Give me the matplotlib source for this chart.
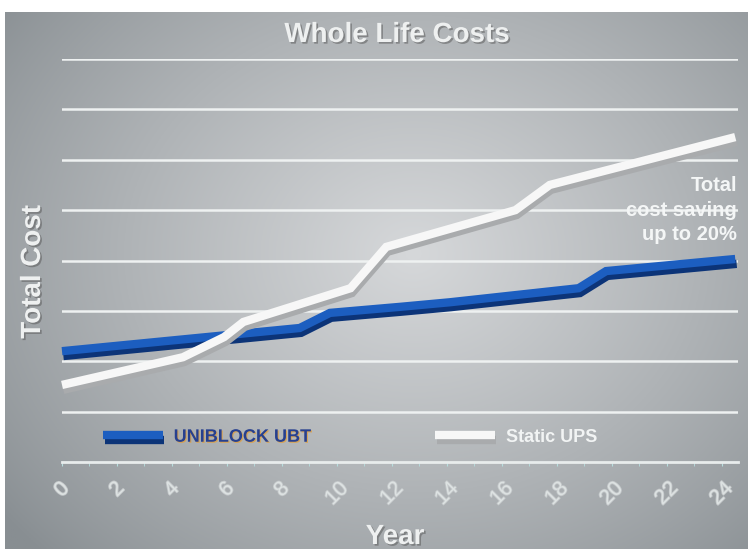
import numpy as np
import matplotlib
matplotlib.use('Agg')
import matplotlib.pyplot as plt
import matplotlib.patheffects as pe
from matplotlib.lines import Line2D

# values (1 unit = one gridline)
uniblock_years = [0, 8.65, 9.75, 12.3, 14.1, 18.8, 19.8, 24.5]
uniblock_cost = [2.20, 2.66, 2.96, 3.08, 3.17, 3.45, 3.79, 4.03]
static_years = [0, 4.4, 5.9, 6.6, 10.5, 11.8, 16.5, 17.75, 24.5]
static_cost = [1.53, 2.08, 2.48, 2.78, 3.45, 4.27, 5.0, 5.5, 6.45]
year_ticks = list(range(0, 25, 2))
grid_levels = list(range(1, 9))

plt.rcParams['font.family'] = ['Liberation Sans', 'DejaVu Sans']

fig = plt.figure(figsize=(7.53, 5.49), dpi=100)
fig.patch.set_facecolor('white')

# grey gradient panel behind the chart
bg = fig.add_axes([5 / 753, 0, 743 / 753, 537 / 549])
bg.set_axis_off()
yy, xx = np.mgrid[0:1:300j, 0:1:400j]
r = np.sqrt(((xx - 0.55) / 0.7) ** 2 + ((yy - 0.45) / 0.8) ** 2)
shade = np.clip(1 - r, 0, 1)
lo = np.array([136, 142, 146]) / 255
hi = np.array([214, 216, 218]) / 255
img = lo + (hi - lo) * shade[..., None] ** 0.85
bg.imshow(img, aspect='auto', extent=[0, 1, 0, 1], origin='upper')
bg.set_xlim(0, 1)
bg.set_ylim(0, 1)

ax = fig.add_axes([62 / 753, 87 / 549, 676 / 753, 403 / 549])
ax.patch.set_alpha(0)
ax.set_xlim(0, 24.6)
ax.set_ylim(0, 8)

for lvl in grid_levels:
    ax.axhline(lvl, color='#eef1f1', lw=1.8, zorder=1)

for s in ['top', 'right', 'left']:
    ax.spines[s].set_visible(False)
ax.spines['bottom'].set_color('#e8ecec')
ax.spines['bottom'].set_linewidth(2)
ax.set_yticks([])
ax.set_xticks(year_ticks)
ax.set_xticks(range(0, 25), minor=True)
ax.tick_params(axis='x', which='major', length=3, color='#b8dede', pad=9)
ax.tick_params(axis='x', which='minor', length=3, color='#b8dede')
ax.set_xticklabels([str(v) for v in year_ticks], rotation=45, ha='center', va='top',
                   fontsize=15, color='#dde2e2')
for t in ax.get_xticklabels():
    t.set_path_effects([pe.withStroke(linewidth=1.2, foreground='#c3c7c9')])

blue_fx = [pe.SimpleLineShadow(offset=(1, -3.5), shadow_color='#0c3478', alpha=1.0),
           pe.Normal()]
white_fx = [pe.SimpleLineShadow(offset=(1, -3.5), shadow_color='#a9abad', alpha=1.0),
            pe.Normal()]

ax.plot(uniblock_years, uniblock_cost, color='#1c5ec0', lw=6, solid_capstyle='butt',
        solid_joinstyle='miter', path_effects=blue_fx, zorder=3, clip_on=False)
ax.plot(static_years, static_cost, color='#f7f7f7', lw=6, solid_capstyle='butt',
        solid_joinstyle='miter', path_effects=white_fx, zorder=4, clip_on=False)

handles = [Line2D([], [], color='#1c5ec0', lw=6, solid_capstyle='butt', path_effects=blue_fx),
           Line2D([], [], color='#f7f7f7', lw=6, solid_capstyle='butt', path_effects=white_fx)]
leg = ax.legend(handles, ['UNIBLOCK UBT', 'Static UPS'], loc='lower left',
                bbox_to_anchor=(0.037, 0.0), ncol=2, frameon=False, handlelength=3.3,
                columnspacing=6.9, handletextpad=0.6, prop={'weight': 'bold', 'size': 13})
tx = leg.get_texts()
tx[0].set_color('#27408f')
tx[0].set_path_effects([pe.withSimplePatchShadow(offset=(0.8, -0.8), shadow_rgbFace='#e0a040', alpha=0.8)])
tx[1].set_color('#f2f4f4')

shadow = [pe.withSimplePatchShadow(offset=(1.2, -1.2), shadow_rgbFace='#555555', alpha=0.5)]
fig.text(397 / 753, 1 - 35 / 549, 'Whole Life Costs', ha='center', va='center',
         fontsize=20, fontweight='bold', color='#eef0f0', path_effects=shadow)
fig.text(33 / 753, 1 - 272 / 549, 'Total Cost', ha='center', va='center', rotation=90,
         fontsize=20, fontweight='bold', color='#eef0f0', path_effects=shadow)
fig.text(395 / 753, 1 - 537 / 549, 'Year', ha='center', va='center',
         fontsize=20, fontweight='bold', color='#eef0f0', path_effects=shadow)
fig.text(737 / 753, 1 - 210 / 549, 'Total\ncost saving\nup to 20%', ha='right', va='center',
         fontsize=14.5, fontweight='bold', color='#f4f6f6', linespacing=1.35)

fig.savefig('out.png', dpi=100)
